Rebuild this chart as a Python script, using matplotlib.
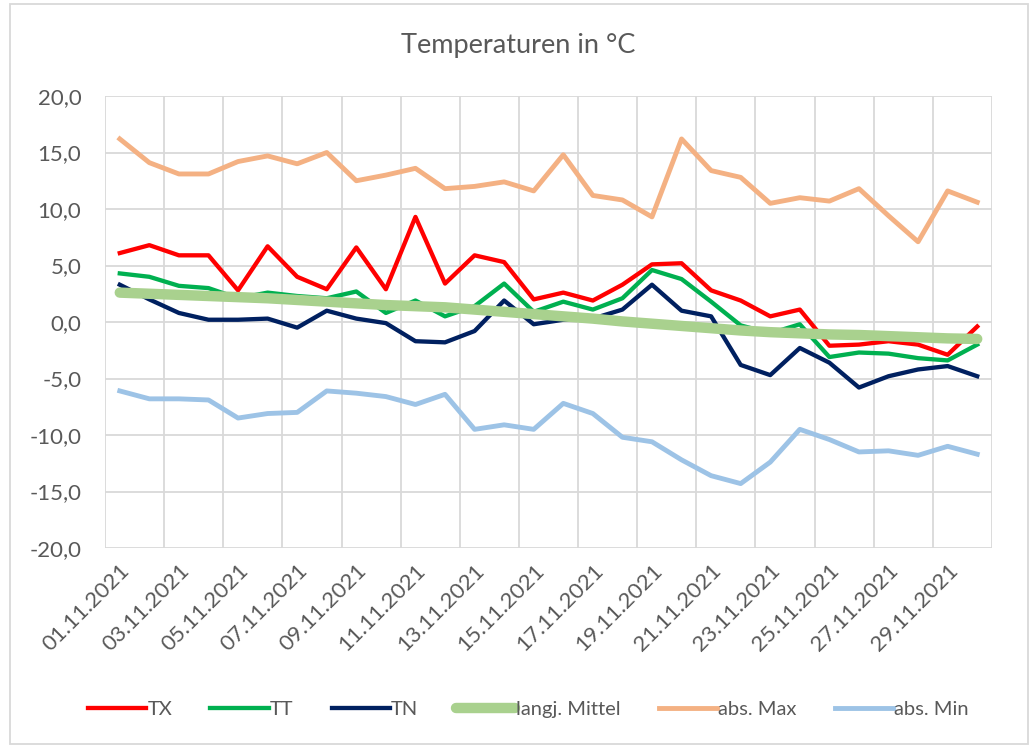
import matplotlib.pyplot as plt
import numpy as np
from matplotlib.patches import Rectangle
from matplotlib.ticker import FuncFormatter

plt.rcParams['font.family'] = ['Lato', 'DejaVu Sans']

# Tage im November 2021
days = [f"{d:02d}.11.2021" for d in range(1, 31)]

tx = [6.1, 6.8, 5.9, 5.9, 2.8, 6.7, 4.0, 2.9, 6.6, 2.9,
      9.3, 3.4, 5.9, 5.3, 2.0, 2.6, 1.9, 3.3, 5.1, 5.2,
      2.8, 1.9, 0.5, 1.1, -2.1, -2.0, -1.7, -2.0, -2.9, -0.4]
tt = [4.3, 4.0, 3.2, 3.0, 2.1, 2.6, 2.3, 2.1, 2.7, 0.8,
      1.9, 0.5, 1.4, 3.4, 0.9, 1.8, 1.1, 2.1, 4.6, 3.8,
      1.8, -0.3, -1.0, -0.2, -3.1, -2.7, -2.8, -3.2, -3.4, -2.0]
tn = [3.3, 2.0, 0.8, 0.2, 0.2, 0.3, -0.5, 1.0, 0.3, -0.1,
      -1.7, -1.8, -0.8, 1.9, -0.2, 0.2, 0.3, 1.1, 3.3, 1.0,
      0.5, -3.8, -4.7, -2.3, -3.6, -5.8, -4.8, -4.2, -3.9, -4.8]
mittel = [2.6, 2.5, 2.4, 2.3, 2.2, 2.1, 1.95, 1.8, 1.65, 1.5,
          1.4, 1.3, 1.1, 0.9, 0.7, 0.5, 0.3, 0.05, -0.15, -0.35,
          -0.55, -0.75, -0.9, -1.0, -1.1, -1.15, -1.25, -1.35, -1.45, -1.5]
abs_max = [16.2, 14.1, 13.1, 13.1, 14.2, 14.7, 14.0, 15.0, 12.5, 13.0,
           13.6, 11.8, 12.0, 12.4, 11.6, 14.8, 11.2, 10.8, 9.3, 16.2,
           13.4, 12.8, 10.5, 11.0, 10.7, 11.8, 9.4, 7.1, 11.6, 10.6]
abs_min = [-6.1, -6.8, -6.8, -6.9, -8.5, -8.1, -8.0, -6.1, -6.3, -6.6,
           -7.3, -6.4, -9.5, -9.1, -9.5, -7.2, -8.1, -10.2, -10.6, -12.2,
           -13.6, -14.3, -12.4, -9.5, -10.4, -11.5, -11.4, -11.8, -11.0, -11.7]

grey = '#595959'
x = np.arange(len(days))

fig = plt.figure(figsize=(10.36, 7.47), dpi=100)
ax = fig.add_axes([105/1036, 1 - 548/747, (992-105)/1036, (548-96)/747])

ax.plot(x, tx, color='#FF0000', lw=3.1, label='TX', solid_joinstyle='round')
ax.plot(x, tt, color='#00B050', lw=3.1, label='TT', solid_joinstyle='round')
ax.plot(x, tn, color='#002060', lw=3.1, label='TN', solid_joinstyle='round')
ax.plot(x, mittel, color='#A9D18E', lw=7.5, label='langj. Mittel', solid_capstyle='round')
ax.plot(x, abs_max, color='#F4B183', lw=3.5, label='abs. Max', solid_joinstyle='round')
ax.plot(x, abs_min, color='#9DC3E6', lw=3.5, label='abs. Min', solid_joinstyle='round')

ax.set_xlim(-0.5, len(days) - 0.5)
ax.set_ylim(-20, 20)
ax.set_yticks(np.arange(-20, 21, 5))
ax.yaxis.set_major_formatter(FuncFormatter(lambda v, p: f"{v:.1f}".replace('.', ',')))
ax.set_xticks(x[::2])
ax.set_xticklabels(days[::2], rotation=45, ha='right', rotation_mode='anchor')
ax.set_xticks(np.arange(-0.5, len(days), 2), minor=True)
ax.grid(False)
ax.grid(True, axis='y', color='#D9D9D9', lw=1.3)
ax.grid(True, axis='x', which='minor', color='#D9D9D9', lw=1.3)
ax.tick_params(which='both', length=0, colors=grey, labelsize=16)
ax.tick_params(axis='y', pad=17)
ax.tick_params(axis='x', pad=9)
for s in ax.spines.values():
    s.set_visible(False)
ax.set_axisbelow(True)

fig.text(0.5, 1 - 45/747, 'Temperaturen in °C', ha='center', va='center',
         fontsize=19.5, color=grey)

leg = fig.legend(loc='center', bbox_to_anchor=(0.51, 1 - 709/747), ncol=6,
                 frameon=False, fontsize=14.5, handlelength=2.9, columnspacing=1.9,
                 handletextpad=0.05, labelcolor=grey)

fig.patches.append(Rectangle((10/1036, 3/747), 1018/1036, 740/747, transform=fig.transFigure,
                             fill=False, edgecolor='#D9D9D9', lw=1.3))

fig.savefig('out.png', dpi=100)
